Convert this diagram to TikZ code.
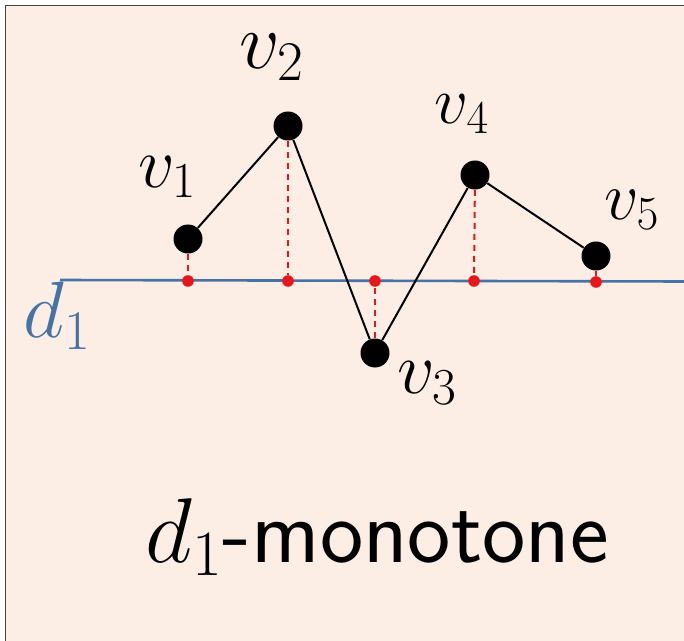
\documentclass[tikz,border=0pt]{standalone}
\usepackage{fix-cm}
\usepackage{xcolor}
\definecolor{paper}{HTML}{FCEEE4}
\definecolor{axis}{HTML}{4673A5}
\definecolor{proj}{HTML}{E8161B}
\definecolor{frame}{HTML}{444444}
\tikzset{
  vertex/.style={circle,fill=black,inner sep=0pt,minimum size=14.5pt},
  foot/.style={circle,fill=proj,inner sep=0pt,minimum size=5.8pt},
  edge/.style={draw=black,line width=1pt},
  drop/.style={draw=proj,line width=1pt,dash pattern=on 3pt off 2.5pt},
  dirline/.style={draw=axis,line width=1.3pt},
  vlabel/.style={inner sep=0pt,font=\fontsize{36}{42}\selectfont},
}

\begin{document}
\begin{tikzpicture}[x=0.5pt,y=-0.5pt]

\useasboundingbox (0,0) rectangle (684,641);
\draw[fill=paper,draw=frame,line width=0.5pt] (5,6) rectangle (700,660);

% direction line
\coordinate (dstart) at (60,280);
\coordinate (dend) at (684,281.5);
\draw[dirline] (dstart) -- (dend);
\node[inner sep=0pt,text=axis,font=\fontsize{40}{46}\selectfont] (dlab) at (57,316) {$d_1$};

% vertices
\node[vertex] (v1) at (188,239) {};
\node[vertex] (v2) at (288,126) {};
\node[vertex] (v3) at (375,353) {};
\node[vertex] (v4) at (475,175) {};
\node[vertex] (v5) at (596,256) {};

% projections
\node[foot] (p1) at (188,281) {};
\node[foot] (p2) at (288,281) {};
\node[foot] (p3) at (375,281) {};
\node[foot] (p4) at (474,281) {};
\node[foot] (p5) at (596,282) {};

\foreach \i in {1,...,5}
  \draw[drop] (v\i) -- (p\i);

\draw[edge] (v1) -- (v2);
\draw[edge] (v2) -- (v3);
\draw[edge] (v3) -- (v4);
\draw[edge] (v4) -- (v5);

% labels
\node[vlabel] (l1) at (168,177) {$v_1$};
\node[vlabel,font=\fontsize{40}{46}\selectfont] (l2) at (272,57) {$v_2$};
\node[vlabel,font=\fontsize{37}{44}\selectfont] (l3) at (427,383) {$v_3$};
\node[vlabel,font=\fontsize{33.5}{40}\selectfont] (l4) at (462,114) {$v_4$};
\node[vlabel,font=\fontsize{34}{40}\selectfont] (l5) at (632,210) {$v_5$};

\node[anchor=base,inner sep=0pt,font=\fontsize{46}{54}\selectfont] (cap) at (377,562) {$d_1$\textsf{-monotone}};

\end{tikzpicture}
\end{document}
